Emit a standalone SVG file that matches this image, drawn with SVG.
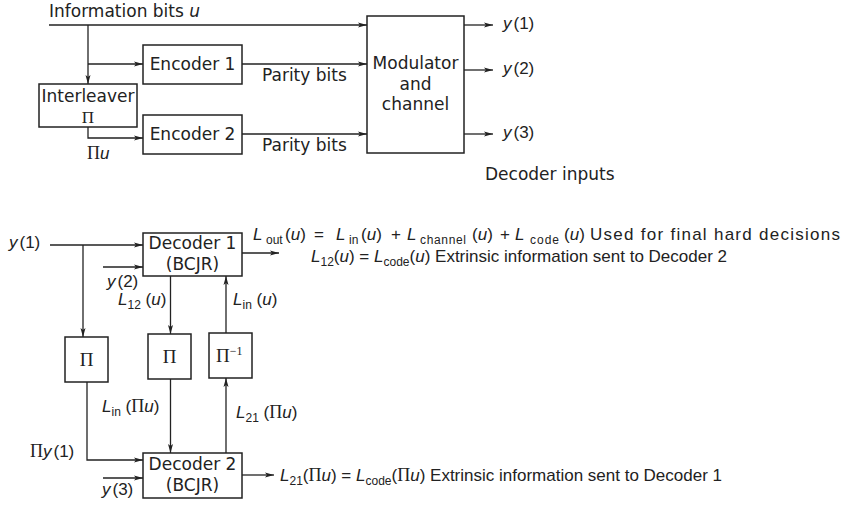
<svg xmlns="http://www.w3.org/2000/svg" width="851" height="505" viewBox="0 0 851 505">
<defs>
<marker id="a" markerWidth="10" markerHeight="6" refX="9" refY="3" orient="auto" markerUnits="userSpaceOnUse">
<path d="M0,0.5 L9,3 L0,5.5 L2,3 z" fill="#222"/>
</marker>
<style>
.b{fill:#fff;stroke:#222;stroke-width:1.5}
.c{fill:none;stroke:#222;stroke-width:1.3;marker-end:url(#a)}
.t{font-family:"DejaVu Sans",sans-serif;font-size:17px;fill:#222}
.m{font-family:"Liberation Sans",Arial,sans-serif;font-size:17px;fill:#222}
.i{font-style:italic}
.p{font-family:"Liberation Serif","Times New Roman",serif;font-style:normal}
.bp{font-size:19px}
.s{font-size:12px}
.mid{text-anchor:middle}
</style>
</defs>
<rect width="851" height="505" fill="#fff"/>

<g id="connectors">
<path class="c" d="M49,25 H367"/>
<path class="c" d="M88,25 V84"/>
<path class="c" d="M88,64 H143"/>
<path class="c" d="M88,127 V138 H143"/>
<path class="c" d="M242,64 H367"/>
<path class="c" d="M242,134 H367"/>
<path class="c" d="M464,25 H493"/>
<path class="c" d="M464,70 H493"/>
<path class="c" d="M464,134 H493"/>
<path class="c" d="M50,245 H143"/>
<path class="c" d="M83,245 V337"/>
<path class="c" d="M103,267 H143"/>
<path class="c" d="M170.5,276 V334"/>
<path class="c" d="M226,333 V276"/>
<path class="c" d="M170.5,379 V453"/>
<path class="c" d="M226,453 V378"/>
<path class="c" d="M87,382 V460 H143"/>
<path class="c" d="M103,478 H143"/>
<path class="c" d="M242,253 H279"/>
<path class="c" d="M242,475 H274"/>
</g>

<g id="encoder1">
<rect class="b" x="143" y="45" width="99" height="39"/>
<text class="t mid" x="192.5" y="70">Encoder 1</text>
</g>
<g id="interleaver">
<rect class="b" x="39" y="84" width="98" height="43"/>
<text class="t mid" x="88" y="102">Interleaver</text>
<text class="m p mid" x="88" y="123" font-size="18">Π</text>
</g>
<g id="encoder2">
<rect class="b" x="143" y="115" width="99" height="39"/>
<text class="t mid" x="192.5" y="140">Encoder 2</text>
</g>
<g id="modulator">
<rect class="b" x="367" y="16" width="97" height="137"/>
<text class="t mid" x="415.5" y="69">Modulator</text>
<text class="t mid" x="415.5" y="90">and</text>
<text class="t mid" x="415.5" y="110">channel</text>
</g>
<g id="decoder1">
<rect class="b" x="143" y="233" width="99" height="43"/>
<text class="t mid" x="192.5" y="249">Decoder 1</text>
<text class="t mid" x="192.5" y="270">(BCJR)</text>
</g>
<g id="pi-left">
<rect class="b" x="65" y="337" width="43" height="45"/>
<text class="m p bp mid" x="86.5" y="366">Π</text>
</g>
<g id="pi-mid">
<rect class="b" x="148" y="334" width="43" height="45"/>
<text class="m p bp mid" x="169.5" y="363">Π</text>
</g>
<g id="pi-inv">
<rect class="b" x="209" y="333" width="43" height="45"/>
<text class="m p bp" x="216" y="362">Π<tspan font-size="12" dy="-7">−1</tspan></text>
</g>
<g id="decoder2">
<rect class="b" x="143" y="453" width="99" height="45"/>
<text class="t mid" x="192.5" y="470">Decoder 2</text>
<text class="t mid" x="192.5" y="491">(BCJR)</text>
</g>

<g id="labels">
<text class="t" x="49" y="17">Information bits <tspan class="i">u</tspan></text>
<text class="t" x="262" y="81">Parity bits</text>
<text class="t" x="262" y="151">Parity bits</text>
<text class="m" x="87" y="159"><tspan class="p" font-size="18">Π</tspan><tspan class="i">u</tspan></text>
<text class="m" x="503" y="29"><tspan class="i">y</tspan><tspan dx="2">(1)</tspan></text>
<text class="m" x="503" y="74"><tspan class="i">y</tspan><tspan dx="2">(2)</tspan></text>
<text class="m" x="503" y="138"><tspan class="i">y</tspan><tspan dx="2">(3)</tspan></text>
<text class="t" x="485" y="180">Decoder inputs</text>

<text class="m" x="9" y="248"><tspan class="i">y</tspan><tspan dx="2">(1)</tspan></text>
<text class="m" x="107" y="287"><tspan class="i">y</tspan><tspan dx="2">(2)</tspan></text>
<text class="m" x="102" y="495"><tspan class="i">y</tspan><tspan dx="2">(3)</tspan></text>
<text class="m" x="30" y="457"><tspan class="p" font-size="18">Π</tspan><tspan class="i">y</tspan><tspan dx="2">(1)</tspan></text>
<text class="m" x="118" y="305"><tspan class="i">L</tspan><tspan class="s" dy="4">12</tspan><tspan dy="-4"> (</tspan><tspan class="i">u</tspan>)</text>
<text class="m" x="233" y="305"><tspan class="i">L</tspan><tspan class="s" dy="4">in</tspan><tspan dy="-4"> (</tspan><tspan class="i">u</tspan>)</text>
<text class="m" x="102" y="412"><tspan class="i">L</tspan><tspan class="s" dy="4">in</tspan><tspan dy="-4"> (</tspan><tspan class="p" font-size="18">Π</tspan><tspan class="i">u</tspan>)</text>
<text class="m" x="236" y="418"><tspan class="i">L</tspan><tspan class="s" dy="4">21</tspan><tspan dy="-4"> (</tspan><tspan class="p" font-size="18">Π</tspan><tspan class="i">u</tspan>)</text>

<text class="m" y="240"><tspan class="i" x="253">L</tspan><tspan class="s" x="266" dy="4">out</tspan><tspan x="285" dy="-4">(</tspan><tspan class="i">u</tspan>)<tspan x="314">=</tspan><tspan class="i" x="336">L</tspan><tspan class="s" x="349" dy="4">in</tspan><tspan x="361" dy="-4">(</tspan><tspan class="i">u</tspan>)<tspan x="391">+</tspan><tspan class="i" x="407">L</tspan><tspan class="s" x="420" dy="4" textLength="46">channel</tspan><tspan x="472" dy="-4">(</tspan><tspan class="i">u</tspan>)<tspan x="500">+</tspan><tspan class="i" x="515">L</tspan><tspan class="s" x="530" dy="4" textLength="29">code</tspan><tspan x="564" dy="-4">(</tspan><tspan class="i">u</tspan>)<tspan x="590" textLength="250">Used for final hard decisions</tspan></text>

<text class="m" x="311" y="262"><tspan class="i">L</tspan><tspan class="s" dy="4">12</tspan><tspan dy="-4">(</tspan><tspan class="i">u</tspan>) = <tspan class="i">L</tspan><tspan class="s" dy="4">code</tspan><tspan dy="-4">(</tspan><tspan class="i">u</tspan>) Extrinsic information sent to Decoder 2</text>

<text class="m" x="280" y="481"><tspan class="i">L</tspan><tspan class="s" dy="4">21</tspan><tspan dy="-4">(</tspan><tspan class="p" font-size="18">Π</tspan><tspan class="i">u</tspan>) = <tspan class="i">L</tspan><tspan class="s" dy="4">code</tspan><tspan dy="-4">(</tspan><tspan class="p" font-size="18">Π</tspan><tspan class="i">u</tspan>) Extrinsic information sent to Decoder 1</text>
</g>
</svg>
